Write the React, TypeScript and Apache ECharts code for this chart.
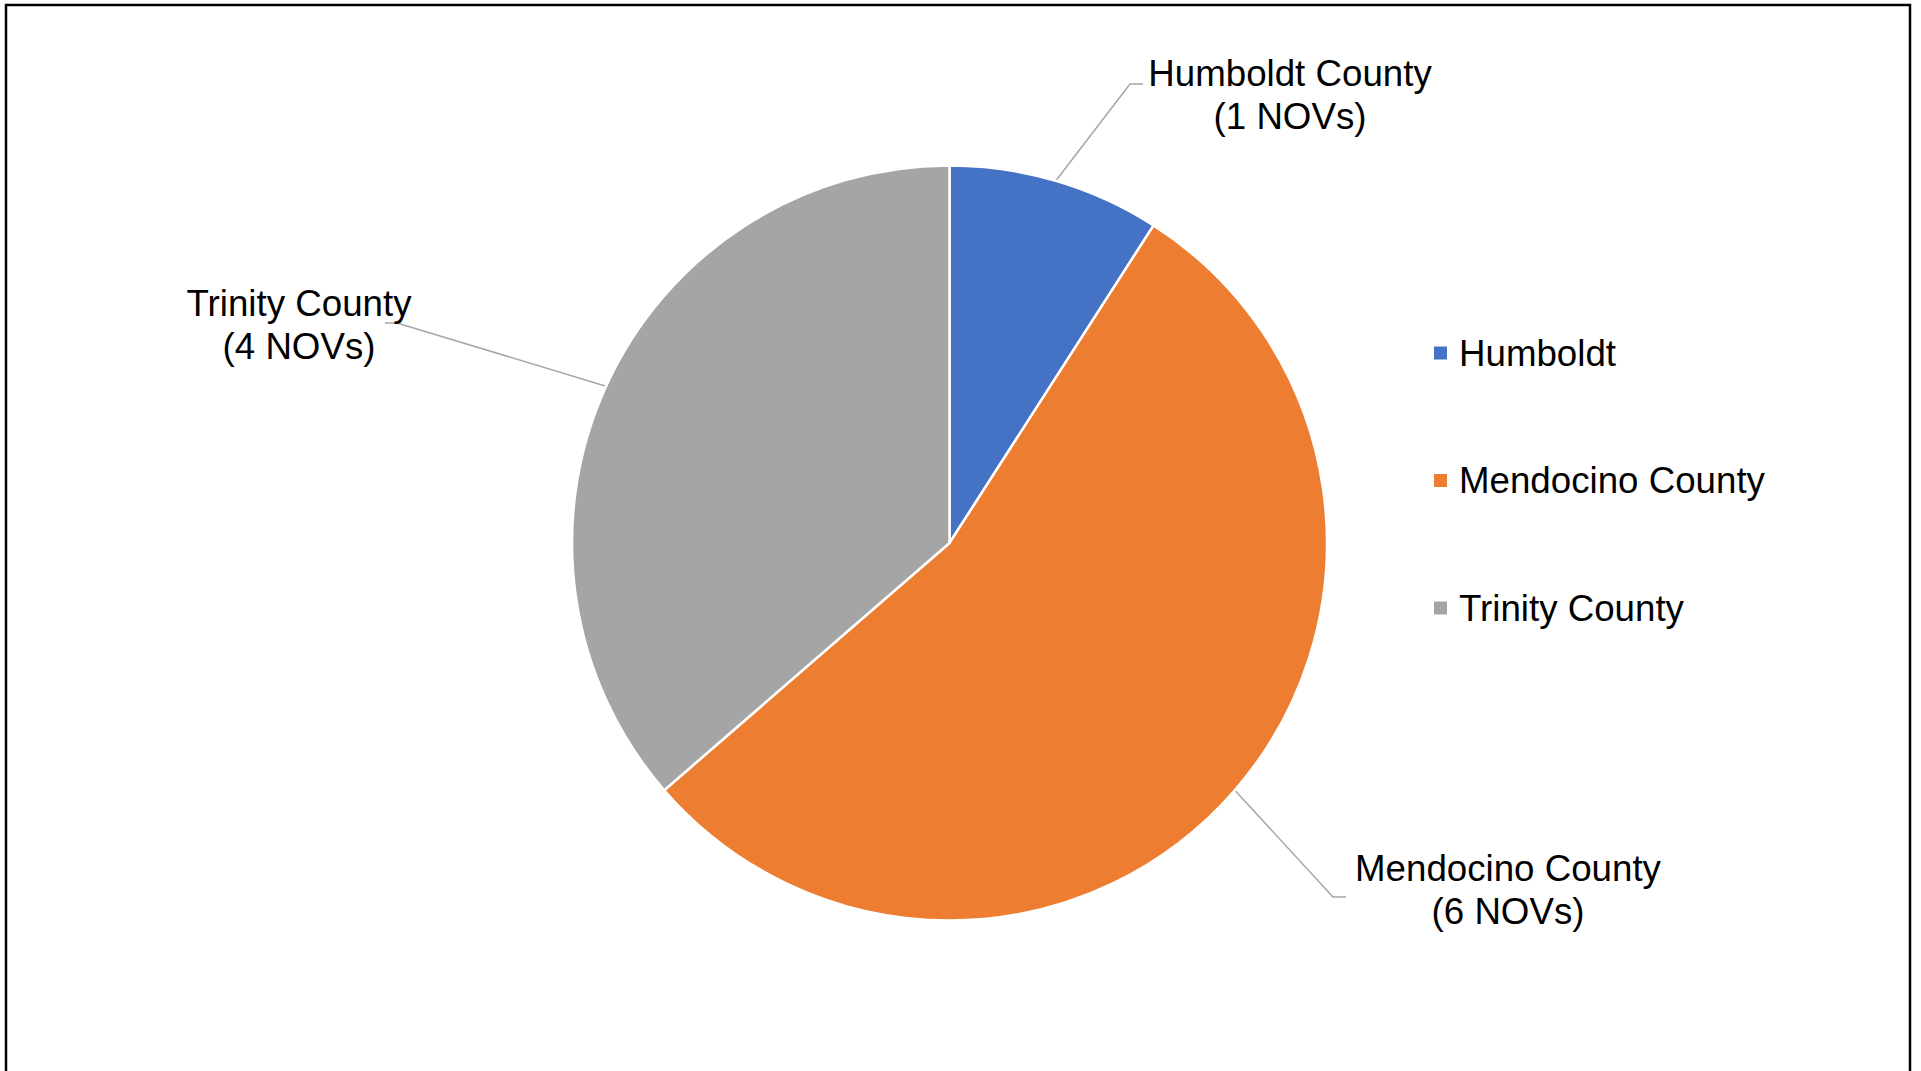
import React, { useEffect, useRef } from "react";
import * as echarts from "echarts";

const legendNames = ["Humboldt", "Mendocino County", "Trinity County"];
const labelNames = ["Humboldt County", "Mendocino County", "Trinity County"];
const values = [1, 6, 4];
const colors = ["#4472C4", "#ED7D31", "#A5A5A5"];

// label block centres and leader-line elbows (layout only)
const labelPos: [number, number][] = [
  [1290, 95],
  [1508, 890],
  [299, 325],
];
const leaderElbow: [number, number][] = [
  [1130, 84],
  [1333, 897],
  [397, 323],
];
const leaderEnd: [number, number][] = [
  [1143, 84],
  [1346, 897],
  [385, 323],
];

const FONT = "'Liberation Sans', Arial, sans-serif";

export default function App() {
  const ref = useRef<HTMLDivElement>(null);
  useEffect(() => {
    if (!ref.current) return;
    const chart = echarts.init(ref.current, null, { renderer: "svg" });
    const cx = 949.5;
    const cy = 543;
    const r = 377.5;
    const total = values.reduce((a, b) => a + b, 0);
    const option: any = {
      animation: false,
      backgroundColor: "#ffffff",
      color: colors,
      textStyle: { fontFamily: FONT },
      graphic: [
        {
          type: "rect",
          shape: { x: 6, y: 5, width: 1904, height: 1100 },
          style: { fill: "none", stroke: "#000", lineWidth: 2.5 },
          silent: true,
        },
      ],
      legend: {
        orient: "vertical",
        left: 1432,
        top: 331,
        padding: 0,
        icon: "rect",
        itemWidth: 15,
        itemHeight: 15,
        itemGap: 83.5,
        selectedMode: false,
        data: legendNames,
        textStyle: {
          fontFamily: FONT,
          fontSize: 36.7,
          lineHeight: 44,
          color: "#000",
          padding: [0, 0, 0, 6],
        },
      },
      series: [
        {
          type: "pie",
          center: [cx, cy],
          radius: r,
          startAngle: 90,
          clockwise: true,
          avoidLabelOverlap: false,
          itemStyle: { borderColor: "#fff", borderWidth: 2.5 },
          emphasis: { disabled: true },
          label: {
            show: true,
            position: "outside",
            fontFamily: FONT,
            fontSize: 36.7,
            lineHeight: 43,
            color: "#000",
            align: "center",
            formatter: (p: any) => `${labelNames[p.dataIndex]}\n(${p.value} NOVs)`,
          },
          labelLine: {
            show: true,
            length: 20,
            length2: 20,
            lineStyle: { color: "#A6A6A6", width: 1.5 },
          },
          labelLayout: (params: any) => {
            const i = params.dataIndex;
            let start: number[];
            if (params.labelLinePoints && params.labelLinePoints[0]) {
              start = [params.labelLinePoints[0][0], params.labelLinePoints[0][1]];
            } else {
              let before = 0;
              for (let k = 0; k < i; k++) before += values[k];
              const mid = ((before + values[i] / 2) / total) * Math.PI * 2;
              start = [cx + r * Math.sin(mid), cy - r * Math.cos(mid)];
            }
            return {
              x: labelPos[i][0],
              y: labelPos[i][1],
              align: "center",
              verticalAlign: "middle",
              labelLinePoints: [start, leaderElbow[i], leaderEnd[i]],
            };
          },
          data: legendNames.map((n, i) => ({ name: n, value: values[i] })),
        },
      ],
    };
    chart.setOption(option);
    return () => chart.dispose();
  }, []);
  return (
    <div
      ref={ref}
      style={{ position: "fixed", left: 0, top: 0, width: 1921, height: 1071, background: "#fff" }}
    />
  );
}
